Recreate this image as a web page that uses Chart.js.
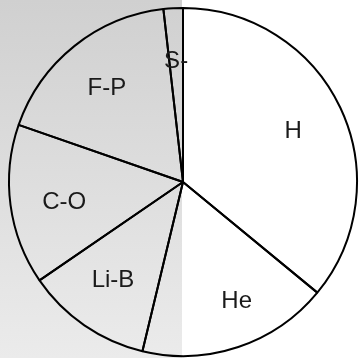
<!DOCTYPE html>
<html>
<head>
<meta charset="utf-8">
<script src="https://cdn.jsdelivr.net/npm/chart.js@4/dist/chart.umd.min.js"></script>
<style>
  html, body { margin: 0; padding: 0; background: #fff; }
  #wrap { width: 359px; height: 358px; }
</style>
</head>
<body>
<div id="wrap"><canvas id="myChart" width="359" height="358"></canvas></div>
<script>
// Slice names, clockwise from 12 o'clock
const labels = ['H', 'He', 'Li-B', 'C-O', 'F-P', 'S-'];

// Share of each slice (percent)
const shares = [36.0, 17.8, 11.7, 14.9, 17.9, 1.8];

// Grey gradient behind the left half
const leftBackground = {
  id: 'leftBackground',
  beforeDraw(chart) {
    const ctx = chart.ctx;
    const arc = chart.getDatasetMeta(0).data[0];
    const cx = arc ? arc.x : chart.width / 2;
    const g = ctx.createLinearGradient(0, 0, 0, chart.height);
    g.addColorStop(0, '#d0d0d0');
    g.addColorStop(1, '#ebebeb');
    ctx.save();
    ctx.fillStyle = g;
    ctx.fillRect(0, 0, Math.round(cx) - 1, chart.height);
    ctx.restore();
  }
};

// Labels inside each slice (small nudges so they sit like the original)
const nudge = { 'He': [15, 3], 'C-O': [2, 3], 'Li-B': [-1, -3] };
const sliceLabels = {
  id: 'sliceLabels',
  afterDatasetsDraw(chart) {
    const ctx = chart.ctx;
    ctx.save();
    ctx.font = '24px "Liberation Sans", Arial, sans-serif';
    ctx.fillStyle = '#1a1a1a';
    ctx.textAlign = 'center';
    ctx.textBaseline = 'middle';
    chart.getDatasetMeta(0).data.forEach((arc, i) => {
      const name = chart.data.labels[i];
      const d = nudge[name] || [0, 0];
      const mid = (arc.startAngle + arc.endAngle) / 2;
      const r = arc.outerRadius * 0.7;
      ctx.fillText(name, arc.x + Math.cos(mid) * r + d[0], arc.y + Math.sin(mid) * r + 1 + d[1]);
    });
    ctx.restore();
  }
};

const data = {
  labels: labels,
  datasets: [{
    data: shares,
    backgroundColor: 'rgba(0,0,0,0)',
    borderColor: '#000',
    borderWidth: 2,
    borderAlign: 'center'
  }]
};

const config = {
  type: 'pie',
  data: data,
  options: {
    responsive: false,
    animation: false,
    layout: {
      padding: { left: 8, right: 1, top: 7, bottom: 1 }
    },
    plugins: {
      legend: { display: false },
      tooltip: { enabled: false }
    }
  },
  plugins: [leftBackground, sliceLabels]
};

const myChart = new Chart(document.getElementById('myChart'), config);
</script>
</body>
</html>
